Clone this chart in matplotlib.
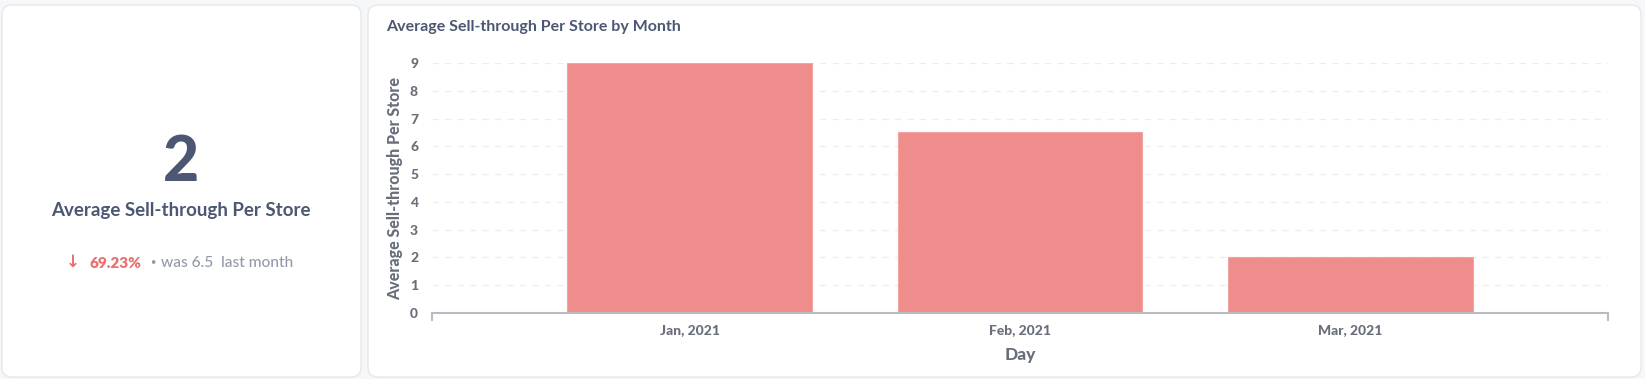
import matplotlib
matplotlib.use("Agg")
import matplotlib.pyplot as plt
from matplotlib.patches import FancyBboxPatch
from matplotlib.ticker import FixedLocator

plt.rcParams['font.family'] = ['Lato', 'DejaVu Sans']

# ---- data ----
months = ["Jan, 2021", "Feb, 2021", "Mar, 2021"]
sell_through = [9, 6.5, 2]
y_ticks = [0, 1, 2, 3, 4, 5, 6, 7, 8, 9]
kpi_value = "2"
kpi_title = "Average Sell-through Per Store"
kpi_change = "69.23%"
kpi_prev = "was 6.5  last month"
chart_title = "Average Sell-through Per Store by Month"
x_label = "Day"
y_label = "Average Sell-through Per Store"

W, H = 1645, 379
fig = plt.figure(figsize=(W / 100, H / 100), dpi=100)
fig.patch.set_facecolor("#f6f7f9")

def fx(px):
    return px / W

def fy(py):
    return 1 - py / H

# cards
for (x0, y0, x1, y1) in [(2, 5, 361, 377), (368, 5, 1641, 377)]:
    card = FancyBboxPatch((fx(x0), fy(y1)), fx(x1 - x0), (y1 - y0) / H,
                          boxstyle="round,pad=0,rounding_size=0.006",
                          transform=fig.transFigure, facecolor="white",
                          edgecolor="#e6e8ec", linewidth=1.0, zorder=0,
                          mutation_aspect=W / H)
    fig.add_artist(card)

dark = "#4c5773"
mid = "#696e7b"
light = "#949aab"
red = "#ed6e6e"

# KPI card
fig.text(fx(181), fy(163), kpi_value, ha="center", va="center",
         fontsize=45, fontweight=900, color=dark)
fig.text(fx(181), fy(210), kpi_title, ha="center", va="center",
         fontsize=13.5, fontweight=700, color=dark)
fig.text(fx(73), fy(262), "\u2193", ha="center", va="center",
         fontsize=12, color=red, family=["DejaVu Sans"], fontweight="bold")
fig.text(fx(90), fy(263), kpi_change, ha="left", va="center",
         fontsize=11, fontweight=800, color=red)
fig.text(fx(153), fy(263), "\u2022", ha="center", va="center",
         fontsize=9, color=light, family=["DejaVu Sans"])
fig.text(fx(161), fy(263), kpi_prev, ha="left", va="center",
         fontsize=11.2, fontweight=500, color=light)

# chart title
fig.text(fx(386), fy(27), chart_title, ha="left", va="center",
         fontsize=11.5, fontweight=700, color=dark)

# bar chart
ax = fig.add_axes([fx(432), fy(313), fx(1608 - 432), (313 - 63) / H])
x = list(range(len(months)))
ax.bar(x, sell_through, width=0.74, color="#ef8c8c", edgecolor="#f4a3a3",
       linewidth=0.8, zorder=2)
ax.set_xlim(-0.78, len(months) - 1 + 0.78)
ax.set_ylim(0, 9)
ax.set_yticks(y_ticks)
ax.set_xticks(x)
ax.set_xticklabels(months, fontweight=900)
ax.set_yticklabels([str(v) for v in y_ticks], fontweight=900)
ax.xaxis.set_minor_locator(FixedLocator([-0.78, len(months) - 1 + 0.78]))
ax.tick_params(axis="x", which="major", length=0, pad=8, labelsize=10,
               labelcolor=mid)
ax.tick_params(axis="x", which="minor", length=6, width=1.5, color="#b8bbc3",
               direction="out")
ax.tick_params(axis="y", length=0, pad=10, labelsize=10, labelcolor=mid)
for s in ["top", "right", "left"]:
    ax.spines[s].set_visible(False)
ax.spines["bottom"].set_color("#b8bbc3")
ax.spines["bottom"].set_linewidth(1.5)
ax.yaxis.grid(True, color="#ebedf0", linestyle=(0, (5, 5)), linewidth=0.9,
              zorder=0)
ax.set_axisbelow(True)
ax.set_ylabel(y_label, fontsize=11.5, fontweight=900, color=mid, labelpad=5)
ax.set_xlabel(x_label, fontsize=12.5, fontweight=900, color=mid, labelpad=8)

fig.savefig("out.png", dpi=100, facecolor=fig.get_facecolor())
